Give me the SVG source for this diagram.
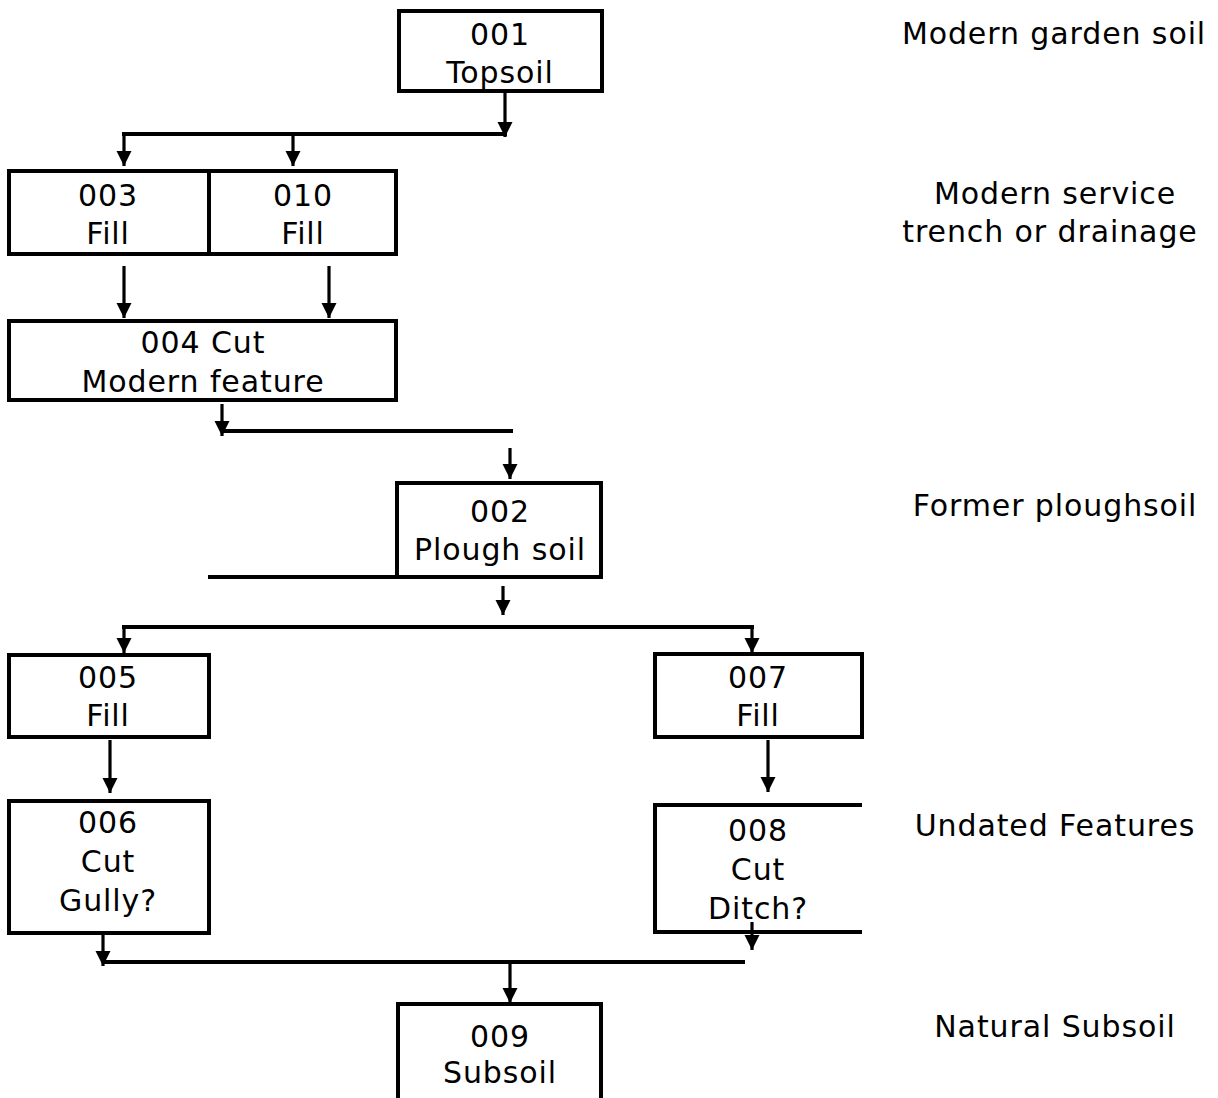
<svg xmlns="http://www.w3.org/2000/svg" width="1218" height="1098" viewBox="0 0 1218 1098">
<style>
.box{fill:#fff;stroke:#000;stroke-width:4}
.open{fill:none;stroke:#000;stroke-width:4}
.ln{fill:none;stroke:#000;stroke-width:4}
.ar{fill:none;stroke:#000;stroke-width:3.2;marker-end:url(#ah)}
text{font-family:"DejaVu Sans","Verdana",sans-serif;font-size:30px;letter-spacing:0.9px;fill:#000;text-anchor:middle}
</style>
<defs>
<marker id="ah" markerUnits="userSpaceOnUse" markerWidth="16" markerHeight="16" refX="15" refY="8" orient="auto">
<path d="M0,0.5 L15,8 L0,15.5 z" fill="#000"/>
</marker>
</defs>
<rect width="1218" height="1098" fill="#fff"/>
<g id="connectors">
<line class="ar" x1="505" y1="91" x2="505" y2="137"/>
<line class="ln" x1="122" y1="134" x2="507" y2="134"/>
<line class="ar" x1="124" y1="134" x2="124" y2="166"/>
<line class="ar" x1="293" y1="134" x2="293" y2="166"/>
<line class="ar" x1="124" y1="266" x2="124" y2="318"/>
<line class="ar" x1="329" y1="266" x2="329" y2="318"/>
<line class="ar" x1="222" y1="404" x2="222" y2="436"/>
<line class="ln" x1="222" y1="431" x2="513" y2="431"/>
<line class="ar" x1="510" y1="448" x2="510" y2="479"/>
<line class="open" x1="208" y1="577" x2="399" y2="577"/>
<line class="ar" x1="503" y1="586" x2="503" y2="615"/>
<line class="ln" x1="122" y1="627" x2="754" y2="627"/>
<line class="ar" x1="124" y1="627" x2="124" y2="653"/>
<line class="ar" x1="752" y1="627" x2="752" y2="653"/>
<line class="ar" x1="110" y1="740" x2="110" y2="793"/>
<line class="ar" x1="768" y1="740" x2="768" y2="792"/>
<line class="ar" x1="103" y1="933" x2="103" y2="966"/>
<line class="ar" x1="752" y1="922" x2="752" y2="950"/>
<line class="ln" x1="103" y1="962" x2="745" y2="962"/>
<line class="ar" x1="510" y1="962" x2="510" y2="1003"/>
</g>
<g id="n001"><rect class="box" x="399" y="11" width="203" height="80"/><text x="500" y="45">001</text><text x="500" y="83">Topsoil</text></g>
<g id="n003"><rect class="box" x="9" y="171" width="200" height="83"/><text x="108" y="206">003</text><text x="108" y="244">Fill</text></g>
<g id="n010"><rect class="box" x="209" y="171" width="187" height="83"/><text x="303" y="206">010</text><text x="303" y="244">Fill</text></g>
<g id="n004"><rect class="box" x="9" y="321" width="387" height="79"/><text x="203" y="353">004 Cut</text><text x="203" y="392">Modern feature</text></g>
<g id="n002"><rect class="box" x="397" y="483" width="204" height="94"/><text x="500" y="522">002</text><text x="500" y="560">Plough soil</text></g>
<g id="n005"><rect class="box" x="9" y="655" width="200" height="82"/><text x="108" y="688">005</text><text x="108" y="726">Fill</text></g>
<g id="n007"><rect class="box" x="655" y="654" width="207" height="83"/><text x="758" y="688">007</text><text x="758" y="726">Fill</text></g>
<g id="n006"><rect class="box" x="9" y="801" width="200" height="132"/><text x="108" y="833">006</text><text x="108" y="872">Cut</text><text x="108" y="911">Gully?</text></g>
<g id="n008"><path class="open" d="M862,805 H655 V932 H862"/><text x="758" y="841">008</text><text x="758" y="880">Cut</text><text x="758" y="919">Ditch?</text></g>
<g id="n009"><path class="open" d="M398,1098 V1004 H601 V1098"/><text x="500" y="1047">009</text><text x="500" y="1083">Subsoil</text></g>
<g id="labels">
<text x="1054" y="44">Modern garden soil</text>
<text x="1055" y="204">Modern service</text>
<text x="1050" y="242">trench or drainage</text>
<text x="1055" y="516">Former ploughsoil</text>
<text x="1055" y="836">Undated Features</text>
<text x="1055" y="1037">Natural Subsoil</text>
</g>
</svg>
